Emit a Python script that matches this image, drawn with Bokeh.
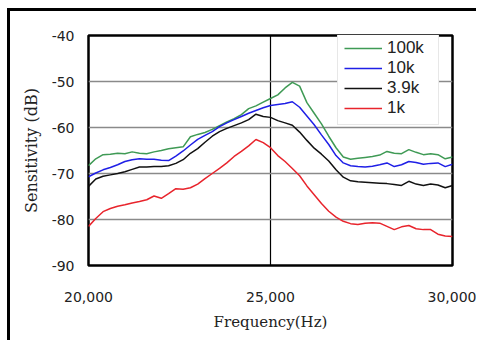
from bokeh.plotting import figure
from bokeh.models import Range1d, FixedTicker, CustomJSTickFormatter, Legend, LegendItem
from bokeh.embed import file_html
from bokeh.resources import INLINE

# ---- data ----
freq = [20000, 20200, 20400, 20600, 20800, 21000, 21200, 21400, 21600, 21800,
        22000, 22200, 22400, 22600, 22800, 23000, 23200, 23400, 23600, 23800,
        24000, 24200, 24400, 24600, 24800, 25000, 25200, 25400, 25600, 25800,
        26000, 26200, 26400, 26600, 26800, 27000, 27200, 27400, 27600, 27800,
        28000, 28200, 28400, 28600, 28800, 29000, 29200, 29400, 29600, 29800, 30000]

s_100k = [-68.3, -66.8, -65.9, -65.8, -65.6, -65.7, -65.3, -65.6, -65.7, -65.3,
          -65.0, -64.6, -64.4, -64.2, -62.0, -61.5, -61.1, -60.4, -59.6, -58.8,
          -58.1, -57.2, -55.9, -55.3, -54.5, -53.7, -52.9, -51.4, -50.2, -51.0,
          -54.6, -56.9, -59.2, -61.9, -64.4, -66.4, -66.9, -66.7, -66.5, -66.3,
          -66.0, -65.2, -65.6, -65.7, -64.8, -65.4, -65.9, -65.7, -65.9, -66.8, -66.4]

s_10k = [-70.7, -69.9, -69.2, -68.7, -68.1, -67.4, -67.0, -66.8, -66.9, -66.9,
         -67.1, -67.2, -66.2, -65.1, -63.8, -62.6, -61.7, -60.9, -59.8, -59.0,
         -58.3, -57.6, -56.9, -56.3, -55.7, -55.2, -55.0, -54.8, -54.4, -55.6,
         -57.5, -59.4, -61.6, -63.7, -66.1, -67.7, -68.3, -68.5, -68.6, -68.4,
         -68.1, -67.7, -68.5, -68.1, -67.4, -67.6, -68.0, -67.8, -67.7, -68.5, -68.0]

s_3_9k = [-72.8, -71.2, -70.6, -70.3, -70.0, -69.6, -69.1, -68.6, -68.6, -68.5,
          -68.5, -68.3, -67.8, -67.0, -65.6, -64.6, -63.2, -61.9, -60.9, -60.2,
          -59.6, -59.0, -58.3, -57.1, -57.6, -57.8, -58.5, -59.0, -59.5, -61.0,
          -62.8, -64.5, -65.8, -67.3, -69.2, -70.8, -71.6, -71.8, -71.9, -72.0,
          -72.1, -72.2, -72.4, -72.6, -71.7, -72.3, -72.6, -72.3, -72.5, -73.1, -72.6]

s_1k = [-81.5, -79.8, -78.3, -77.6, -77.1, -76.8, -76.4, -76.1, -75.7, -74.9,
        -75.4, -74.4, -73.3, -73.4, -73.1, -72.3, -71.1, -70.0, -68.9, -67.7,
        -66.3, -65.2, -64.0, -62.6, -63.3, -64.4, -66.1, -67.4, -68.9, -70.5,
        -72.7, -74.6, -76.5, -78.2, -79.5, -80.4, -80.9, -81.1, -80.8, -80.7,
        -80.8, -81.5, -82.2, -81.6, -81.3, -82.0, -82.2, -82.2, -83.2, -83.6, -83.7]

series_names = ["100k", "10k", "3.9k", "1k"]
series_colors = ["#3f9a55", "#1f1fe6", "#111111", "#e8242c"]
x_ticks = [20000, 25000, 30000]
y_ticks = [-90, -80, -70, -60, -50, -40]

p = figure(width=469, height=332, output_backend="svg", toolbar_location=None,
           x_range=Range1d(20000, 30000), y_range=Range1d(-90, -40),
           min_border_left=78, min_border_right=27, min_border_top=24, min_border_bottom=78,
           styles={"margin-left": "7px", "margin-top": "8px",
                   "border-left": "3px solid black", "border-top": "3px solid black"})

p.background_fill_color = "white"
p.border_fill_color = "white"
p.outline_line_color = "black"
p.outline_line_width = 2.5

renderers = []
for vals, col in zip([s_100k, s_10k, s_3_9k, s_1k], series_colors):
    r = p.line(freq, vals, line_color=col, line_width=1.5)
    renderers.append(r)

# axes
for ax in (p.xaxis[0], p.yaxis[0]):
    ax.axis_line_color = None
    ax.major_tick_line_color = None
    ax.minor_tick_line_color = None
    ax.major_tick_out = 0
    ax.major_tick_in = 0
    ax.major_label_text_font = "DejaVu Sans"
    ax.major_label_text_font_size = "14px"
    ax.major_label_text_color = "#222222"
    ax.axis_label_text_font = "DejaVu Serif"
    ax.axis_label_text_font_style = "normal"
    ax.axis_label_text_color = "#222222"

p.xaxis.ticker = FixedTicker(ticks=x_ticks)
p.xaxis.formatter = CustomJSTickFormatter(code="return tick.toLocaleString('en-US');")
p.xaxis.major_label_standoff = 26
p.xaxis.axis_label = "Frequency(Hz)"
p.xaxis.axis_label_text_font_size = "15px"
p.xaxis.axis_label_standoff = 8

p.yaxis.ticker = FixedTicker(ticks=y_ticks)
p.yaxis.formatter = CustomJSTickFormatter(code="return String(tick);")
p.yaxis.major_label_standoff = 14
p.yaxis.axis_label = "Sensitivity (dB)"
p.yaxis.axis_label_text_font_size = "16px"
p.yaxis.axis_label_standoff = 8

# grids
p.ygrid.ticker = FixedTicker(ticks=y_ticks)
p.ygrid.grid_line_color = "#8a8a8a"
p.ygrid.grid_line_width = 1.5
p.xgrid.ticker = FixedTicker(ticks=x_ticks)
p.xgrid.grid_line_color = "black"
p.xgrid.grid_line_width = 1.2

legend = Legend(items=[LegendItem(label=n, renderers=[r]) for n, r in zip(series_names, renderers)],
                location=(249, 140))
legend.label_text_font = "Liberation Sans"
legend.label_text_font_size = "17px"
legend.label_text_color = "#222222"
legend.glyph_width = 38
legend.glyph_height = 18
legend.label_height = 18
legend.label_width = 45
legend.label_standoff = 5
legend.spacing = 0
legend.padding = 6
legend.margin = 0
legend.border_line_color = "#cfcfcf"
legend.border_line_width = 1.5
legend.background_fill_color = "white"
legend.background_fill_alpha = 1.0
p.add_layout(legend)

open("out.html", "w").write(file_html(p, INLINE))
